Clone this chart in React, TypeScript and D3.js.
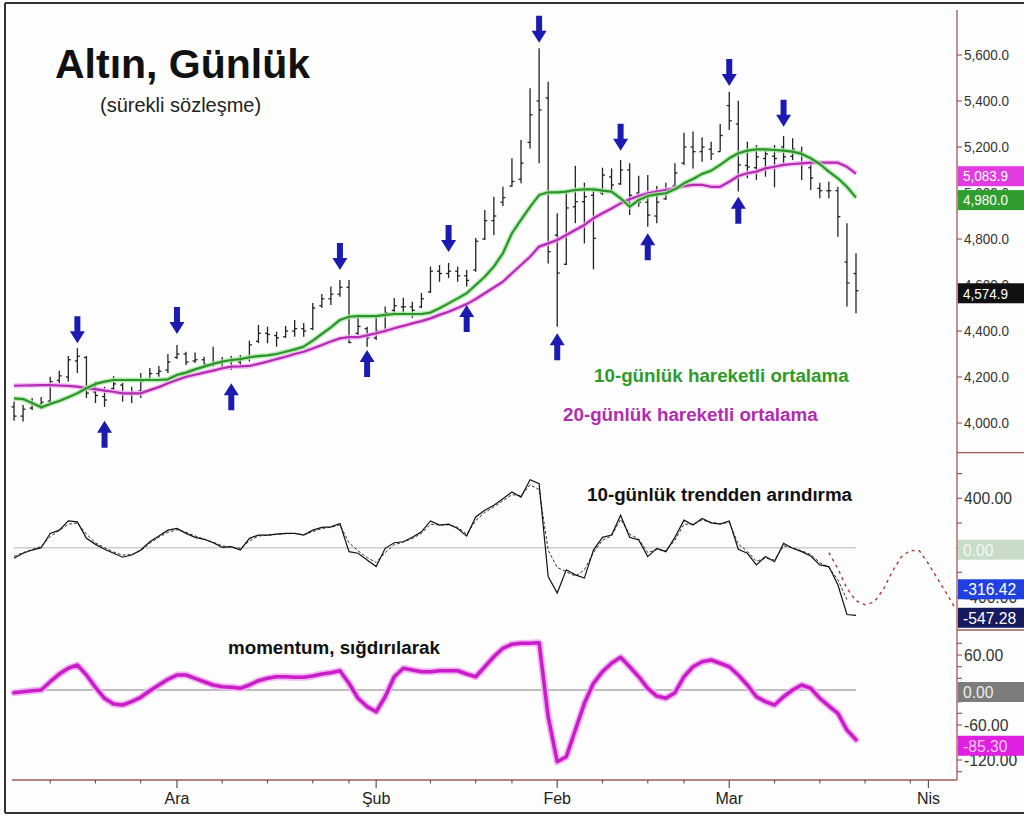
import React from 'react';
import * as d3 from 'd3';

// ---------- DATA ----------
const highs = [4093,4078,4109,4113,4201,4227,4291,4325,4291,4180,4158,4204,4174,4158,4217,4239,4248,4300,4339,4310,4306,4288,4332,4287,4291,4296,4358,4426,4419,4397,4422,4448,4435,4522,4561,4593,4622,4622,4462,4419,4462,4506,4543,4545,4527,4565,4680,4687,4696,4680,4665,4804,4926,4984,5027,5151,5230,5455,5629,5484,4912,5013,5119,5045,5013,5110,5107,5143,5129,5075,5078,5030,5045,5129,5262,5267,5242,5223,5300,5440,5401,5223,5209,5187,5209,5248,5238,5201,5129,5045,5049,5027,4868,4738];
const lows = [4010,4006,4057,4061,4083,4174,4180,4217,4109,4087,4070,4143,4093,4087,4109,4187,4201,4217,4278,4252,4261,4239,4245,4230,4230,4245,4267,4348,4347,4332,4370,4375,4375,4404,4500,4513,4549,4347,4383,4332,4361,4391,4478,4478,4457,4500,4565,4614,4630,4614,4593,4658,4796,4817,4943,5027,5042,5194,5129,4694,4419,4687,4868,4781,4668,4991,5006,5035,4904,4940,4853,4868,4970,5020,5122,5107,5136,5143,5180,5274,5006,5064,5057,5071,5025,5129,5143,5057,5013,4977,4977,4810,4506,4477];
const opens = [4070,4030,4065,4080,4095,4185,4200,4270,4285,4135,4115,4150,4165,4125,4140,4190,4215,4230,4285,4300,4270,4275,4255,4260,4270,4265,4280,4355,4390,4380,4375,4400,4410,4410,4510,4540,4560,4590,4390,4410,4370,4400,4490,4505,4505,4505,4570,4660,4650,4660,4640,4665,4800,4880,4960,5030,5060,5220,5400,5413,4817,4690,4940,4962,4990,5000,5070,5040,5100,5000,4960,4900,4975,5030,5130,5200,5180,5190,5180,5380,5300,5120,5110,5150,5160,5200,5160,5180,5110,5020,5010,5010,4700,4650];
const closes = [4030,4060,4085,4090,4180,4205,4275,4290,4130,4120,4100,4170,4130,4135,4180,4215,4225,4265,4300,4265,4275,4255,4260,4270,4270,4275,4340,4390,4385,4370,4400,4410,4400,4500,4540,4560,4590,4350,4420,4370,4400,4480,4510,4505,4490,4540,4660,4650,4660,4640,4620,4790,4880,4900,4980,5050,5130,5340,5361,4745,4652,4935,4962,4984,4803,5078,5035,5100,4990,4960,4904,4960,5000,5087,5200,5180,5200,5170,5250,5314,5122,5113,5157,5170,5150,5157,5190,5130,5065,5010,5010,4897,4609,4574.9];
const ma10 = [4107,4104,4087,4068,4083,4096,4112,4129,4151,4170,4180,4187,4187,4187,4187,4187,4187,4190,4209,4219,4233,4245,4257,4267,4274,4278,4286,4291,4294,4300,4310,4320,4332,4358,4387,4416,4448,4462,4465,4465,4465,4470,4474,4474,4474,4474,4480,4499,4520,4542,4564,4600,4636,4680,4738,4825,4883,4940,4991,5003,5003,5006,5013,5016,5016,5010,5006,4977,4940,4970,4987,4994,4999,5016,5042,5061,5083,5097,5122,5151,5173,5184,5190,5190,5187,5184,5180,5170,5151,5126,5093,5064,5027,4980];
const ma20 = [4162,4163,4164,4165,4165,4163,4161,4158,4151,4147,4141,4136,4129,4129,4129,4143,4156,4173,4187,4201,4210,4219,4228,4238,4245,4246,4248,4257,4267,4278,4288,4300,4310,4324,4339,4354,4368,4373,4373,4381,4390,4400,4412,4422,4433,4443,4455,4470,4484,4500,4517,4539,4564,4589,4614,4651,4687,4723,4767,4781,4796,4817,4839,4861,4890,4912,4933,4955,4973,4987,4999,5006,5013,5020,5030,5035,5035,5027,5027,5049,5074,5086,5093,5107,5114,5122,5126,5129,5132,5132,5132,5132,5114,5083.9];
const detrend = [-85,-45,-19,0,116,142,217,209,76,27,-13,-45,-77,-59,-19,48,94,142,156,116,84,68,40,3,8,-19,76,102,102,110,116,116,102,142,164,169,196,-32,-45,-99,-153,-5,40,48,84,129,217,183,191,156,94,249,303,344,397,451,410,550,518,-233,-367,-179,-220,-246,-19,84,102,263,84,62,-72,-5,-32,84,223,183,237,201,191,217,-13,-45,-139,-72,-113,35,-5,-32,-67,-139,-153,-300,-541,-547.28];
const detrendSmooth = [-70,-40,-15,10,90,140,190,200,110,40,0,-35,-60,-55,-25,35,85,125,145,125,95,70,45,15,5,-5,55,95,100,108,114,115,105,130,155,165,185,40,-25,-80,-120,-40,25,45,75,115,190,185,185,165,110,220,285,330,380,430,420,510,470,-20,-160,-195,-230,-180,-40,60,95,230,110,70,-40,-15,-25,60,190,190,225,205,195,205,30,-30,-110,-85,-100,15,0,-25,-55,-120,-160,-260,-420];
const projIdx = [90,91,92,93,94,95,96,97,98,99,100,101,102,103,104];
const projVals = [-40,-170,-330,-430,-462,-440,-341,-195,-75,-22,-25,-130,-250,-370,-495];
const momentum = [-4.6,-2.9,-1.2,0,14.2,27.4,37.2,42.9,25.7,4.6,-14.2,-24,-25.7,-20,-12.5,-1.2,8.6,18.3,25.7,25.7,20,14.2,8.6,5.7,4.6,2.9,8.6,15.9,20,22.8,22.8,21.8,21.8,24,27.4,29.7,33.1,11.5,-14.2,-28.6,-37.2,-11.5,22.8,37.2,34.3,31.4,31.4,33.1,33.1,33.1,27.4,22.8,39.9,57.1,71.5,78.4,80.1,80.1,81.1,-45.8,-123,-114.5,-68.6,-22.8,11.5,31.4,45.8,56,39.9,22.8,2.9,-10.3,-14.2,-4.6,22.8,39.9,48.5,51.4,45.8,39.9,25.7,8.6,-11.5,-20,-25.7,-11.5,0,8.6,2.9,-14.2,-27.4,-40,-68.6,-85.3];

const arrowDownIdx = [7,18,36,48,58,67,79,85];
const arrowDownPrice = [4347,4387,4665,4743,5653,5184,5465,5288];
const arrowUpIdx = [10,24,39,50,60,70,80];
const arrowUpPrice = [4010,4173,4317,4513,4390,4825,4984];

const priceTicks = [4000,4200,4400,4600,4800,5000,5200,5400,5600];
const detrendTicks = [-600,-400,-200,0,200,400,600];
const detrendLabels = [400,0,-400];
const momTicks = [-140,-120,-100,-80,-60,-40,-20,0,20,40,60,80];
const momLabels = [60,0,-60,-120];
const monthTickIdx = [18,40,60,79,101];
const monthLabels = ['Ara','Şub','Feb','Mar','Nis'];
const weekTickIdx = [4,9,14,23,28,33,37,46,51,55,65,70,74,84,89,94,99];

const lastPrice = 4574.9;
const lastMa10 = 4980.0;
const lastMa20 = 5083.9;
const lastDetrend = -547.28;
const detrendSignal = -316.42;
const lastMomentum = -85.30;

// ---------- LAYOUT ----------
const W = 1024, H = 816;
const AX = 957;
const FONT = '"Liberation Sans", Arial, Helvetica, sans-serif';
const AXIS_COLOR = '#9b5a58';

export default function App() {
  const x = d3.scaleLinear().domain([0, 93]).range([14, 856]);
  const pY = d3.scaleLinear().domain([4000, 5600]).range([423, 55]);
  const dY = d3.scaleLinear().domain([-400, 400]).range([597.1, 498.3]);
  const mY = d3.scaleLinear().domain([-120, 60]).range([760, 655]);

  const lineP = d3.line<number>().x((_, i) => x(i)).y(d => pY(d));
  const lineD = d3.line<number>().x((_, i) => x(i)).y(d => dY(d));
  const lineM = d3.line<number>().x((_, i) => x(i)).y(d => mY(d));
  const lineProj = d3.line<number>().x((_, i) => x(projIdx[i])).y(d => dY(d));

  const fmtPrice = d3.format(',.1f');
  const fmt2 = (v: number) => (v < 0 ? '-' : '') + Math.abs(v).toFixed(2);

  const downArrow = 'M0,0 L-7.5,-12 L-3,-12 L-3,-27 L3,-27 L3,-12 L7.5,-12 Z';
  const upArrow = 'M0,0 L-7.5,12 L-3,12 L-3,27 L3,27 L3,12 L7.5,12 Z';

  const axisText = (key: string, tx: number, ty: number, s: string, size: number, fill = '#333', sx = 0.9) => (
    <text key={key} transform={`translate(${tx},${ty}) scale(${sx},1)`} fontFamily={FONT} fontSize={size} fill={fill} dominantBaseline="central">{s}</text>
  );

  const boxes = [
    { y: pY(lastMa20) + 2.5, text: fmtPrice(lastMa20), fill: '#e03ce0', color: '#fff', size: 15 },
    { y: pY(lastMa10) + 2.5, text: fmtPrice(lastMa10), fill: '#2f9e2f', color: '#fff', size: 15 },
    { y: pY(lastPrice) + 2.5, text: fmtPrice(lastPrice), fill: '#111111', color: '#fff', size: 15 },
    { y: dY(0) + 2, text: fmt2(0), fill: '#c9dcc9', color: '#f4f8f4', size: 16.5 },
    { y: dY(detrendSignal) + 2.5, text: fmt2(detrendSignal), fill: '#2040e0', color: '#fff', size: 16.5 },
    { y: dY(lastDetrend) + 2.5, text: fmt2(lastDetrend), fill: '#161a5e', color: '#fff', size: 16.5 },
    { y: mY(0) + 2, text: fmt2(0), fill: '#7c7c7c', color: '#eee', size: 16.5 },
    { y: mY(lastMomentum) + 6, text: fmt2(lastMomentum), fill: '#e020e0', color: '#f8c8f8', size: 16.5 },
  ];

  return (
    <svg width={W} height={H} style={{ position: 'absolute', left: 0, top: 0, background: '#fdfdfd' }}>
      <defs>
        <clipPath id="plotClip"><rect x={8} y={8} width={AX - 8} height={772} /></clipPath>
      </defs>
      <rect x={0} y={0} width={W} height={H} fill="#fdfdfd" />

      {/* frame */}
      <line x1={5} y1={3} x2={1024} y2={3} stroke="#333" strokeWidth={2} />
      <line x1={5} y1={3} x2={5} y2={813} stroke="#333" strokeWidth={2} />
      <line x1={5} y1={813} x2={1024} y2={813} stroke="#333" strokeWidth={2} />

      {/* titles */}
      <text x={55} y={78} fontFamily={FONT} fontWeight="bold" fontSize={41} fill="#111">Altın, Günlük</text>
      <text x={100} y={112} fontFamily={FONT} fontSize={20} fill="#222">(sürekli sözleşme)</text>

      {/* zero lines */}
      <line x1={x(0)} x2={x(93)} y1={dY(0)} y2={dY(0)} stroke="#c4d2c4" strokeWidth={1.5} />
      <line x1={x(0)} x2={x(93)} y1={mY(0)} y2={mY(0)} stroke="#808080" strokeWidth={1.2} />

      {/* price bars */}
      <g stroke="#222" strokeWidth={1.3}>
        {highs.map((h, i) => (
          <g key={'b' + i}>
            <line x1={x(i)} x2={x(i)} y1={pY(h)} y2={pY(lows[i])} />
            <line x1={x(i) - 2.5} x2={x(i)} y1={pY(opens[i])} y2={pY(opens[i])} />
            <line x1={x(i)} x2={x(i) + 2.5} y1={pY(closes[i])} y2={pY(closes[i])} />
          </g>
        ))}
      </g>

      {/* moving averages */}
      <path d={lineP(ma20) || ''} fill="none" stroke="#f2b0f2" strokeWidth={5} strokeLinejoin="round" opacity={0.8} />
      <path d={lineP(ma20) || ''} fill="none" stroke="#b22cb2" strokeWidth={2.2} strokeLinejoin="round" />
      <path d={lineP(ma10) || ''} fill="none" stroke="#a8e8a0" strokeWidth={5} strokeLinejoin="round" opacity={0.8} />
      <path d={lineP(ma10) || ''} fill="none" stroke="#2e932e" strokeWidth={2.2} strokeLinejoin="round" />

      {/* arrows */}
      {arrowDownIdx.map((idx, k) => (
        <path key={'ad' + k} d={downArrow} transform={`translate(${x(idx)},${pY(arrowDownPrice[k])})`} fill="#1b1bb2" />
      ))}
      {arrowUpIdx.map((idx, k) => (
        <path key={'au' + k} d={upArrow} transform={`translate(${x(idx)},${pY(arrowUpPrice[k])})`} fill="#1b1bb2" />
      ))}

      {/* legend texts */}
      <text x={594} y={382} fontFamily={FONT} fontWeight="bold" fontSize={18.8} fill="#2f9a2a">10-günlük hareketli ortalama</text>
      <text x={563} y={421} fontFamily={FONT} fontWeight="bold" fontSize={18.8} fill="#b22cb2">20-günlük hareketli ortalama</text>
      <text x={587} y={501} fontFamily={FONT} fontWeight="bold" fontSize={18.8} fill="#111">10-günlük trendden arındırma</text>
      <text x={228} y={654} fontFamily={FONT} fontWeight="bold" fontSize={18.8} fill="#111">momentum, sığdırılarak</text>

      {/* detrend */}
      <g clipPath="url(#plotClip)">
        <path d={lineD(detrendSmooth) || ''} fill="none" stroke="#333" strokeWidth={1} strokeDasharray="3,2" />
        <path d={lineD(detrend) || ''} fill="none" stroke="#111" strokeWidth={1.2} />
        <path d={lineProj(projVals) || ''} fill="none" stroke="#a03a30" strokeWidth={1.4} strokeDasharray="3,4" />
      </g>

      {/* momentum */}
      <path d={lineM(momentum) || ''} fill="none" stroke="#f4b4f4" strokeWidth={7} strokeLinejoin="round" strokeLinecap="round" />
      <path d={lineM(momentum) || ''} fill="none" stroke="#c81ec8" strokeWidth={3.6} strokeLinejoin="round" strokeLinecap="round" />

      {/* right axis */}
      <line x1={AX} x2={AX} y1={10} y2={780} stroke={AXIS_COLOR} strokeWidth={1.3} />
      <line x1={AX} x2={1024} y1={452.7} y2={452.7} stroke={AXIS_COLOR} strokeWidth={1.3} />
      <line x1={AX} x2={1024} y1={630} y2={630} stroke={AXIS_COLOR} strokeWidth={1.3} />
      {priceTicks.map(t => (
        <g key={'pt' + t}>
          <line x1={AX} x2={AX + 5} y1={pY(t)} y2={pY(t)} stroke={AXIS_COLOR} strokeWidth={1.2} />
          {axisText('ptl' + t, AX + 7, pY(t), fmtPrice(t), 15)}
        </g>
      ))}
      {detrendTicks.map(t => (
        <line key={'dt' + t} x1={AX} x2={AX + 5} y1={dY(t)} y2={dY(t)} stroke={AXIS_COLOR} strokeWidth={1.2} />
      ))}
      {detrendLabels.map(t => axisText('dl' + t, AX + 7, dY(t), fmt2(t), 16.5, '#333', 0.95))}
      {momTicks.map(t => (
        <line key={'mt' + t} x1={AX} x2={AX + 5} y1={mY(t)} y2={mY(t)} stroke={AXIS_COLOR} strokeWidth={1.2} />
      ))}
      {momLabels.map(t => axisText('ml' + t, AX + 7, mY(t), fmt2(t), 16.5, '#333', 0.95))}

      {/* value boxes */}
      {boxes.map((b, k) => (
        <g key={'box' + k}>
          <rect x={AX + 1} y={b.y - 10} width={1024 - AX} height={20} fill={b.fill} />
          {axisText('bt' + k, AX + 6, b.y, b.text, b.size, b.color, b.size > 16 ? 0.95 : 0.9)}
        </g>
      ))}

      {/* bottom axis */}
      <line x1={12} x2={AX} y1={780} y2={780} stroke={AXIS_COLOR} strokeWidth={1.3} />
      {weekTickIdx.map(t => (
        <line key={'wt' + t} x1={x(t)} x2={x(t)} y1={780} y2={783.5} stroke="#555" strokeWidth={1.1} />
      ))}
      {monthTickIdx.map((t, k) => (
        <g key={'mt' + t}>
          <line x1={x(t)} x2={x(t)} y1={780} y2={788} stroke="#555" strokeWidth={1.2} />
          <text x={x(t)} y={798} textAnchor="middle" dominantBaseline="central" fontFamily={FONT} fontSize={16} fill="#222">{monthLabels[k]}</text>
        </g>
      ))}
    </svg>
  );
}
